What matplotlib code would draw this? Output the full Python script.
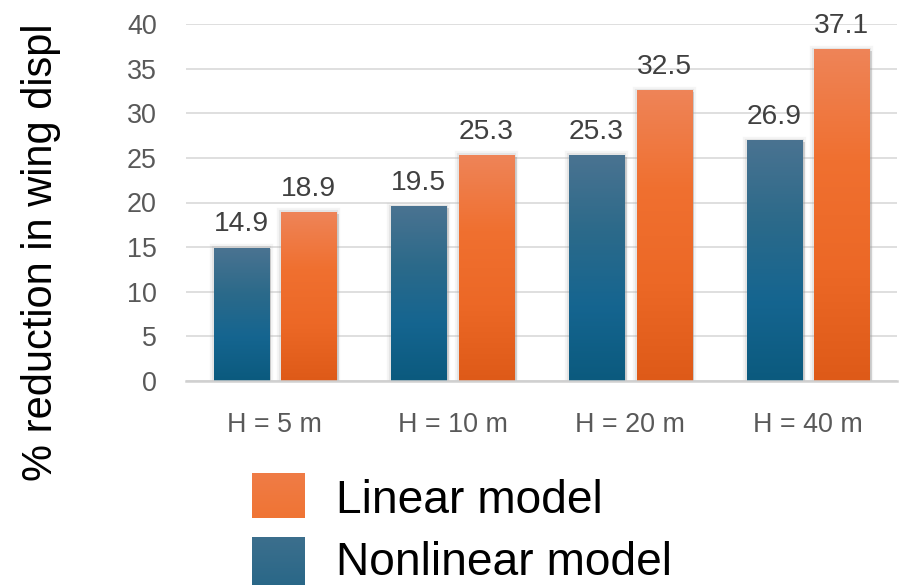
import numpy as np
import matplotlib
matplotlib.use("Agg")
import matplotlib.pyplot as plt
import matplotlib.patheffects as pe
from matplotlib.colors import LinearSegmentedColormap

plt.rcParams['font.family'] = ['Liberation Sans', 'DejaVu Sans']

categories = ["H = 5 m", "H = 10 m", "H = 20 m", "H = 40 m"]
nonlinear = [14.9, 19.5, 25.3, 26.9]
linear = [18.9, 25.3, 32.5, 37.1]
series_names = ["Linear model", "Nonlinear model"]
y_ticks = [0, 5, 10, 15, 20, 25, 30, 35, 40]

W, H = 910, 585
fig = plt.figure(figsize=(W / 100, H / 100), dpi=100)
ax = fig.add_axes([186 / W, 1 - 381 / H, 711 / W, 357 / H])

blue_cmap = LinearSegmentedColormap.from_list(
    "blue", ["#0B5A7E", "#156590", "#2C6A8A", "#4A7391"])
orange_cmap = LinearSegmentedColormap.from_list(
    "orange", ["#DE5A18", "#EC6826", "#F07030", "#EE8458"])

x = np.arange(len(categories))
width = 0.31
offset = 0.19

glow = [pe.SimplePatchShadow(offset=(2, -1), shadow_rgbFace="#9A9A9A", alpha=0.4),
        pe.Stroke(linewidth=6, foreground="#B0B0B0", alpha=0.12),
        pe.Stroke(linewidth=3, foreground="#A0A0A0", alpha=0.18),
        pe.Normal()]

grad = np.linspace(0, 1, 256).reshape(-1, 1)


def gradient_bars(xpos, values, cmap, zorder):
    bars = ax.bar(xpos, values, width=width, color=cmap(0.98), zorder=zorder,
                  linewidth=0)
    for b in bars:
        b.set_path_effects(glow)
        bx, bw, bh = b.get_x(), b.get_width(), b.get_height()
        ax.imshow(grad, cmap=cmap, origin="lower", aspect="auto",
                  extent=[bx, bx + bw, 0, bh], zorder=zorder + 0.1,
                  interpolation="bilinear")
    return bars


nl_bars = gradient_bars(x - offset, nonlinear, blue_cmap, 3)
li_bars = gradient_bars(x + offset, linear, orange_cmap, 3)

for xs, vals in ((x - offset, nonlinear), (x + offset, linear)):
    for xi, v in zip(xs, vals):
        ax.annotate(f"{v:.1f}", (xi, v), xytext=(0, 12), textcoords="offset points",
                    ha="center", va="baseline", fontsize=20.3, color="#404040",
                    zorder=5, annotation_clip=False)

ax.set_xlim(-0.5, len(categories) - 0.5)
ax.set_ylim(0, 40)
ax.set_yticks(y_ticks)
ax.set_yticklabels([str(t) for t in y_ticks])
ax.set_xticks(x)
ax.set_xticklabels(categories)
ax.tick_params(axis="both", length=0, labelsize=19.4, labelcolor="#595959")
ax.tick_params(axis="y", pad=21)
ax.tick_params(axis="x", pad=22)
ax.yaxis.grid(True, color="#D9D9D9", linewidth=1.2, zorder=0)
ax.set_axisbelow(True)
for s in ("top", "right", "left"):
    ax.spines[s].set_visible(False)
ax.spines["bottom"].set_color("#D0D0D0")
ax.spines["bottom"].set_linewidth(1.8)
ax.spines["bottom"].set_zorder(4)

fig.text(41 / W, 1 - 252 / H, "% reduction in wing displ", rotation=90,
         ha="center", va="center", fontsize=30, color="black")

# Legend swatches and labels
lax = fig.add_axes([0, 0, 1, 1])
lax.set_xlim(0, W)
lax.set_ylim(H, 0)
lax.axis("off")
lax.imshow(grad, cmap=LinearSegmentedColormap.from_list("lo", ["#EF7C46", "#F07434"]),
           origin="upper", aspect="auto", extent=[252, 305, 518, 473])
lax.imshow(grad, cmap=LinearSegmentedColormap.from_list("lb", ["#3C6F8D", "#246586"]),
           origin="upper", aspect="auto", extent=[252, 305, 600, 537])
lax.set_xlim(0, W)
lax.set_ylim(H, 0)
lax.text(336, 513, series_names[0], fontsize=33.2, color="black", va="baseline", ha="left")
lax.text(336, 575, series_names[1], fontsize=33.2, color="black", va="baseline", ha="left")

fig.savefig("out.png", dpi=100)
